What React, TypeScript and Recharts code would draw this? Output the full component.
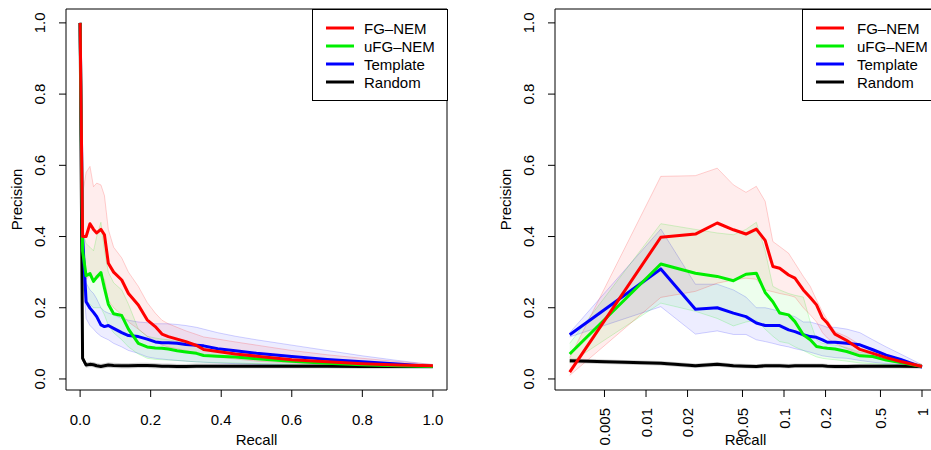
import {
  Area,
  ComposedChart,
  Line,
  ReferenceArea,
  XAxis,
  YAxis,
} from "recharts";

const FONT = "'Liberation Sans', Arial, Helvetica, sans-serif";

// left panel: linear recall axis
const leftRecall = [0, 0.007, 0.017, 0.028, 0.038, 0.047, 0.059, 0.069, 0.08, 0.095, 0.118, 0.137, 0.165, 0.19, 0.213, 0.232, 0.25, 0.275, 0.3, 0.33, 0.35, 0.39, 0.44, 0.5, 0.6, 0.7, 0.8, 0.9, 1.0];
const leftFg = [1.0, 0.4, 0.4, 0.436, 0.42, 0.41, 0.42, 0.405, 0.325, 0.3, 0.278, 0.24, 0.208, 0.166, 0.147, 0.126, 0.119, 0.112, 0.105, 0.094, 0.083, 0.077, 0.07, 0.064, 0.054, 0.048, 0.043, 0.039, 0.037];
const leftFgLo = [1.0, 0.3, 0.28, 0.29, 0.28, 0.28, 0.29, 0.28, 0.22, 0.2, 0.18, 0.16, 0.14, 0.12, 0.105, 0.095, 0.09, 0.085, 0.08, 0.072, 0.066, 0.061, 0.056, 0.05, 0.045, 0.041, 0.038, 0.035, 0.034];
const leftFgHi = [1.0, 0.52, 0.58, 0.597, 0.54, 0.55, 0.545, 0.515, 0.42, 0.37, 0.34, 0.3, 0.26, 0.215, 0.185, 0.165, 0.155, 0.145, 0.135, 0.125, 0.118, 0.112, 0.104, 0.095, 0.08, 0.068, 0.058, 0.049, 0.041];
const leftUfg = [1.0, 0.36, 0.29, 0.296, 0.274, 0.286, 0.299, 0.255, 0.21, 0.183, 0.178, 0.14, 0.1, 0.09, 0.087, 0.086, 0.084, 0.079, 0.076, 0.072, 0.066, 0.064, 0.062, 0.057, 0.05, 0.044, 0.04, 0.037, 0.035];
const leftUfgLo = [1.0, 0.26, 0.22, 0.21, 0.2, 0.2, 0.2, 0.18, 0.15, 0.13, 0.11, 0.09, 0.07, 0.058, 0.055, 0.054, 0.053, 0.052, 0.05, 0.048, 0.047, 0.046, 0.045, 0.043, 0.04, 0.038, 0.036, 0.034, 0.033];
const leftUfgHi = [1.0, 0.42, 0.38, 0.37, 0.36, 0.4, 0.44, 0.36, 0.3, 0.27, 0.25, 0.21, 0.14, 0.12, 0.115, 0.112, 0.11, 0.105, 0.1, 0.095, 0.09, 0.086, 0.08, 0.073, 0.063, 0.055, 0.048, 0.042, 0.037];
const leftTpl = [1.0, 0.4, 0.217, 0.199, 0.187, 0.175, 0.152, 0.147, 0.15, 0.142, 0.13, 0.122, 0.119, 0.112, 0.104, 0.102, 0.102, 0.1, 0.097, 0.095, 0.093, 0.085, 0.079, 0.072, 0.063, 0.055, 0.048, 0.042, 0.035];
const leftTplLo = [1.0, 0.3, 0.17, 0.15, 0.14, 0.13, 0.12, 0.115, 0.11, 0.1, 0.09, 0.08, 0.072, 0.062, 0.058, 0.056, 0.054, 0.052, 0.05, 0.048, 0.047, 0.045, 0.043, 0.041, 0.038, 0.036, 0.034, 0.032, 0.031];
const leftTplHi = [1.0, 0.45, 0.27, 0.25, 0.24, 0.225, 0.2, 0.19, 0.185, 0.18, 0.17, 0.165, 0.16, 0.158, 0.155, 0.155, 0.155, 0.153, 0.15, 0.145, 0.14, 0.13, 0.12, 0.11, 0.095, 0.08, 0.065, 0.052, 0.04];
const leftRand = [1.0, 0.058, 0.039, 0.041, 0.04, 0.037, 0.035, 0.037, 0.039, 0.038, 0.037, 0.037, 0.038, 0.038, 0.037, 0.036, 0.036, 0.035, 0.035, 0.036, 0.036, 0.036, 0.036, 0.036, 0.036, 0.036, 0.035, 0.035, 0.035];
const leftRandLo = [1.0, 0.052, 0.033, 0.035, 0.034, 0.031, 0.03, 0.031, 0.033, 0.032, 0.031, 0.031, 0.032, 0.032, 0.031, 0.031, 0.031, 0.03, 0.03, 0.031, 0.031, 0.031, 0.031, 0.031, 0.031, 0.031, 0.03, 0.03, 0.03];
const leftRandHi = [1.0, 0.064, 0.045, 0.047, 0.046, 0.043, 0.041, 0.043, 0.045, 0.044, 0.043, 0.043, 0.044, 0.044, 0.043, 0.042, 0.042, 0.041, 0.041, 0.042, 0.042, 0.042, 0.042, 0.042, 0.041, 0.041, 0.04, 0.04, 0.04];

// right panel: log recall axis
const rightRecall = [0.0028, 0.0128, 0.0228, 0.0328, 0.043, 0.053, 0.063, 0.073, 0.083, 0.093, 0.108, 0.12, 0.138, 0.155, 0.172, 0.19, 0.206, 0.234, 0.285, 0.355, 0.44, 0.55, 0.7, 1.0];
const rightFg = [0.019, 0.398, 0.407, 0.438, 0.419, 0.407, 0.421, 0.389, 0.316, 0.311, 0.292, 0.283, 0.25, 0.229, 0.208, 0.171, 0.157, 0.126, 0.108, 0.083, 0.072, 0.06, 0.049, 0.035];
const rightFgLo = [0.01, 0.229, 0.246, 0.269, 0.278, 0.283, 0.28, 0.25, 0.245, 0.24, 0.235, 0.23, 0.2, 0.18, 0.16, 0.13, 0.115, 0.1, 0.085, 0.07, 0.06, 0.052, 0.045, 0.033];
const rightFgHi = [0.06, 0.569, 0.571, 0.592, 0.545, 0.524, 0.541, 0.499, 0.386, 0.372, 0.353, 0.325, 0.288, 0.26, 0.222, 0.189, 0.166, 0.133, 0.119, 0.096, 0.083, 0.067, 0.053, 0.041];
const rightUfg = [0.07, 0.323, 0.297, 0.288, 0.276, 0.294, 0.297, 0.243, 0.217, 0.185, 0.18, 0.161, 0.124, 0.11, 0.091, 0.088, 0.086, 0.084, 0.077, 0.065, 0.063, 0.053, 0.046, 0.035];
const rightUfgLo = [0.045, 0.213, 0.19, 0.17, 0.149, 0.16, 0.165, 0.14, 0.12, 0.105, 0.1, 0.09, 0.08, 0.07, 0.062, 0.058, 0.056, 0.054, 0.05, 0.045, 0.043, 0.04, 0.038, 0.032];
const rightUfgHi = [0.1, 0.436, 0.42, 0.41, 0.405, 0.42, 0.44, 0.36, 0.26, 0.25, 0.24, 0.235, 0.23, 0.16, 0.11, 0.1, 0.098, 0.095, 0.088, 0.075, 0.07, 0.06, 0.05, 0.038];
const rightTpl = [0.124, 0.309, 0.196, 0.2, 0.185, 0.175, 0.157, 0.15, 0.15, 0.15, 0.138, 0.133, 0.124, 0.119, 0.117, 0.11, 0.103, 0.103, 0.1, 0.096, 0.082, 0.067, 0.055, 0.033];
const rightTplLo = [0.118, 0.203, 0.126, 0.135, 0.125, 0.125, 0.11, 0.105, 0.1, 0.095, 0.09, 0.085, 0.08, 0.075, 0.07, 0.065, 0.063, 0.06, 0.058, 0.052, 0.047, 0.043, 0.04, 0.03];
const rightTplHi = [0.13, 0.421, 0.266, 0.266, 0.25, 0.23, 0.2, 0.2, 0.195, 0.19, 0.18, 0.175, 0.16, 0.16, 0.155, 0.15, 0.145, 0.145, 0.14, 0.13, 0.11, 0.09, 0.07, 0.04];
const rightRand = [0.051, 0.044, 0.037, 0.041, 0.037, 0.036, 0.035, 0.037, 0.037, 0.037, 0.036, 0.037, 0.037, 0.037, 0.037, 0.037, 0.036, 0.035, 0.035, 0.036, 0.036, 0.036, 0.036, 0.035];
const rightRandLo = [0.046, 0.039, 0.032, 0.036, 0.032, 0.031, 0.03, 0.032, 0.032, 0.032, 0.031, 0.032, 0.032, 0.032, 0.032, 0.032, 0.031, 0.03, 0.03, 0.031, 0.031, 0.031, 0.031, 0.03];
const rightRandHi = [0.056, 0.049, 0.042, 0.046, 0.042, 0.041, 0.04, 0.042, 0.042, 0.042, 0.041, 0.042, 0.042, 0.042, 0.042, 0.042, 0.041, 0.04, 0.04, 0.041, 0.041, 0.041, 0.041, 0.04];

const yTicks = [0, 0.2, 0.4, 0.6, 0.8, 1.0];
const leftXTicks = [0, 0.2, 0.4, 0.6, 0.8, 1.0];
const rightXTicks = [0.005, 0.01, 0.02, 0.05, 0.1, 0.2, 0.5, 1];

const seriesNames = ["FG\u2013NEM", "uFG\u2013NEM", "Template", "Random"];
const seriesColors = ["#ff0000", "#00ee00", "#0000ff", "#000000"];

function buildRows(recall: number[], s: number[][]) {
  return recall.map((r, i) => ({
    recall: r,
    fg: s[0][i], fgBand: [s[1][i], s[2][i]],
    ufg: s[3][i], ufgBand: [s[4][i], s[5][i]],
    tpl: s[6][i], tplBand: [s[7][i], s[8][i]],
    rand: s[9][i], randBand: [s[10][i], s[11][i]],
  }));
}

const leftRows = buildRows(leftRecall, [leftFg, leftFgLo, leftFgHi, leftUfg, leftUfgLo, leftUfgHi, leftTpl, leftTplLo, leftTplHi, leftRand, leftRandLo, leftRandHi]);
const rightRows = buildRows(rightRecall, [rightFg, rightFgLo, rightFgHi, rightUfg, rightUfgLo, rightUfgHi, rightTpl, rightTplLo, rightTplHi, rightRand, rightRandLo, rightRandHi]);

const Y_DOMAIN: [number, number] = [-0.031, 1.039];

function YTick(props: any) {
  const { x, y, payload } = props;
  return (
    <text transform={`translate(${x - 14.5},${y}) rotate(-90)`} textAnchor="middle"
      fontFamily={FONT} fontSize={15} fill="#000">
      {payload.value.toFixed(1)}
    </text>
  );
}

function LinXTick(props: any) {
  const { x, y, payload } = props;
  return (
    <text x={x} y={y + 28} textAnchor="middle" fontFamily={FONT} fontSize={15} fill="#000">
      {payload.value.toFixed(1)}
    </text>
  );
}

function LogXTick(props: any) {
  const { x, y, payload } = props;
  return (
    <text transform={`translate(${x + 5.5},${y + 11}) rotate(-90)`} textAnchor="end"
      fontFamily={FONT} fontSize={15} fill="#000">
      {String(payload.value)}
    </text>
  );
}

function YLabel(props: any) {
  const vb = props.viewBox;
  const cx = vb.x + vb.width - 44;
  const cy = vb.y + vb.height / 2;
  return (
    <text transform={`translate(${cx},${cy}) rotate(-90)`} textAnchor="middle"
      fontFamily={FONT} fontSize={15} fill="#000">Precision</text>
  );
}

function XLabel(props: any) {
  const vb = props.viewBox;
  return (
    <text x={vb.x + vb.width / 2} y={vb.y + 55} textAnchor="middle"
      fontFamily={FONT} fontSize={15} fill="#000">Recall</text>
  );
}

function Panel({ rows, log, width, marginRight, yWidth }: {
  rows: any[]; log: boolean; width: number; marginRight: number; yWidth: number;
}) {
  const xDomain: [number, number] = log ? [0.00219, 1.263] : [-0.04, 1.04];
  const bands = [
    { key: "randBand", c: seriesColors[3] },
    { key: "tplBand", c: seriesColors[2] },
    { key: "ufgBand", c: seriesColors[1] },
    { key: "fgBand", c: seriesColors[0] },
  ];
  const lines = [
    { key: "rand", c: seriesColors[3] },
    { key: "tpl", c: seriesColors[2] },
    { key: "ufg", c: seriesColors[1] },
    { key: "fg", c: seriesColors[0] },
  ];
  return (
    <ComposedChart width={width} height={450} data={rows}
      margin={{ top: 9, right: marginRight, bottom: 0, left: 0 }}>
      <XAxis dataKey="recall" type="number" scale={log ? "log" : "linear"} domain={xDomain}
        allowDataOverflow ticks={log ? rightXTicks : leftXTicks} interval={0}
        height={60} tickSize={7} tickMargin={0} axisLine={false} stroke="#000"
        tick={log ? <LogXTick /> : <LinXTick />} label={<XLabel />} />
      <YAxis type="number" domain={Y_DOMAIN} allowDataOverflow ticks={yTicks} interval={0}
        width={yWidth} tickSize={7} tickMargin={0} axisLine={false} stroke="#000"
        tick={<YTick />} label={<YLabel />} />
      {bands.map((b) => (
        <Area key={b.key} dataKey={b.key} type="linear" fill={b.c} fillOpacity={0.07}
          stroke={b.c} strokeOpacity={0.18} strokeWidth={1} dot={false} activeDot={false}
          isAnimationActive={false} />
      ))}
      {lines.map((l) => (
        <Line key={l.key} dataKey={l.key} type="linear" stroke={l.c} strokeWidth={3}
          strokeLinejoin="round" dot={false} activeDot={false} isAnimationActive={false} />
      ))}
      <ReferenceArea x1={xDomain[0]} x2={xDomain[1]} y1={Y_DOMAIN[0]} y2={Y_DOMAIN[1]}
        fill="none" stroke="#000" strokeWidth={1} ifOverflow="visible" />
    </ComposedChart>
  );
}

function LegendBox({ left, width, textX }: { left: number; width: number; textX: number }) {
  return (
    <svg style={{ position: "absolute", left, top: 9 }} width={width} height={93}>
      <rect x={0.5} y={0.5} width={width - 1} height={91} fill="#fff" stroke="#000" />
      {seriesNames.map((n, i) => (
        <g key={n}>
          <line x1={14} x2={42} y1={19 + 18 * i} y2={19 + 18 * i} stroke={seriesColors[i]} strokeWidth={3} />
          <text x={textX} y={19 + 18 * i + 5.5} fontFamily={FONT} fontSize={15} fill="#000">{n}</text>
        </g>
      ))}
    </svg>
  );
}

export default function App() {
  return (
    <div style={{ position: "absolute", left: 0, top: 0, width: 931, height: 450, overflow: "hidden", background: "#fff" }}>
      <div style={{ position: "absolute", left: 0, top: 0 }}>
        <Panel rows={leftRows} log={false} width={460} marginRight={13} yWidth={66} />
      </div>
      <div style={{ position: "absolute", left: 490, top: 0 }}>
        <Panel rows={rightRows} log={true} width={450} marginRight={4} yWidth={65} />
      </div>
      <LegendBox left={312} width={136} textX={52} />
      <LegendBox left={802} width={160} textX={55} />
    </div>
  );
}
